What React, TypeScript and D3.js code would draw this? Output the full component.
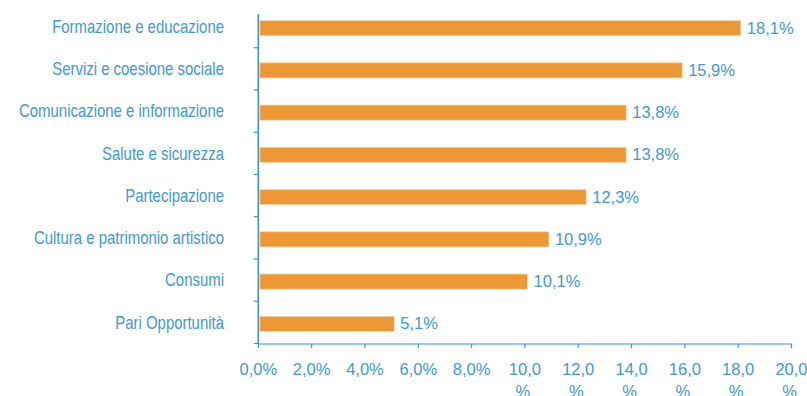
import React from "react";
import * as d3 from "d3";

const categories = [
  "Formazione e educazione",
  "Servizi e coesione sociale",
  "Comunicazione e informazione",
  "Salute e sicurezza",
  "Partecipazione",
  "Cultura e patrimonio artistico",
  "Consumi",
  "Pari Opportunità",
];
const values = [18.1, 15.9, 13.8, 13.8, 12.3, 10.9, 10.1, 5.1];
const tickValues = [0, 2, 4, 6, 8, 10, 12, 14, 16, 18, 20];

const W = 807;
const H = 396;
const TEXT = "#4398d6";
const AXIS = "#3a90d2";
const BAR = "#ec9836";

const fmt = (v: number) => v.toFixed(1).replace(".", ",") + "%";

export default function App() {
  const x = d3.scaleLinear().domain([0, 20]).range([258.3, 791.5]);
  const y = d3
    .scaleBand<string>()
    .domain(categories)
    .range([5.5, 343.5])
    .paddingInner(0.64)
    .paddingOuter(0.32);
  const step = y.step();
  const bh = y.bandwidth();
  const axisY = 344;
  const font = "'Liberation Sans', Arial, sans-serif";

  return (
    <svg
      width={W}
      height={H}
      style={{ position: "absolute", left: 0, top: 0, background: "#fff" }}
    >
      {/* bars */}
      {categories.map((c, i) => {
        const yy = (y(c) as number) + 1.5;
        const x0 = x(0) + 1.5;
        const ly = (y(c) as number) + bh / 2 + 6.3;
        return (
          <g key={c}>
            <rect
              x={x0}
              y={yy}
              width={x(values[i]) - x0}
              height={bh}
              fill={BAR}
              stroke="#f7d9b4"
              strokeWidth={0.8}
            />
            <text
              x={x(values[i]) + 6}
              y={yy + bh / 2 + 5.5}
              fill={TEXT}
              fontFamily={font}
              fontSize={16.5}
            >
              {fmt(values[i])}
            </text>
            <text
              transform={`translate(224,${ly}) scale(0.83,1)`}
              textAnchor="end"
              fill={TEXT}
              fontFamily={font}
              fontSize={18}
            >
              {c}
            </text>
          </g>
        );
      })}

      {/* y axis */}
      <line x1={x(0)} x2={x(0)} y1={14} y2={axisY} stroke={AXIS} strokeWidth={1.5} />
      {categories.map((c) => {
        const ty = (y(c) as number) - (step - bh) / 2 + step;
        return (
          <line key={"yt" + c} x1={x(0) - 4.5} x2={x(0)} y1={ty} y2={ty} stroke={AXIS} strokeWidth={1.2} />
        );
      })}

      {/* x axis */}
      <line x1={x(0)} x2={x(20)} y1={axisY} y2={axisY} stroke={AXIS} strokeWidth={1.2} />
      {tickValues.map((t) => {
        const label = fmt(t);
        const wrap = label.length > 4;
        return (
          <g key={"xt" + t}>
            <line x1={x(t)} x2={x(t)} y1={axisY} y2={axisY + 4} stroke={AXIS} strokeWidth={1.2} />
            <text
              x={x(t)}
              y={375}
              textAnchor="middle"
              fill={TEXT}
              fontFamily={font}
              fontSize={16.5}
            >
              {wrap ? label.slice(0, -1) : label}
            </text>
            {wrap && (
              <text
                x={x(t) - 2}
                y={397}
                textAnchor="middle"
                fill={TEXT}
                fontFamily={font}
                fontSize={16.5}
              >
                %
              </text>
            )}
          </g>
        );
      })}
    </svg>
  );
}
